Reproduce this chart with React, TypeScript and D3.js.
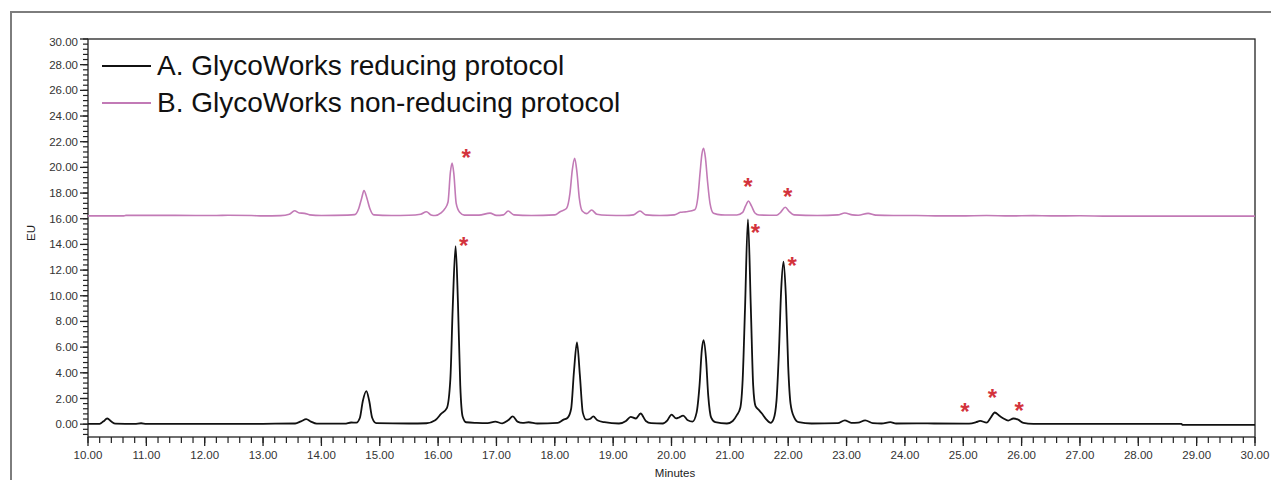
import React from "react";
import * as d3 from "d3";

// Trace A: GlycoWorks reducing protocol [minutes, EU]
const traceA: [number, number][] = [
  [10.0, 0.02], [10.2, 0.03], [10.26, 0.2], [10.33, 0.44], [10.4, 0.2], [10.47, 0.04], [10.8, 0.02], [10.91, 0.07], [11.0, 0.02],
  [12.0, 0.02], [13.0, 0.03], [13.55, 0.05], [13.65, 0.22], [13.74, 0.39], [13.82, 0.2], [13.92, 0.04], [14.4, 0.04], [14.51, 0.13],
  [14.6, 0.12], [14.66, 0.5], [14.71, 1.8], [14.77, 2.57], [14.82, 1.8], [14.87, 0.5], [14.94, 0.08], [15.5, 0.05], [15.8, 0.07],
  [15.95, 0.3], [16.05, 0.8], [16.15, 1.25], [16.21, 3.5], [16.25, 9.0], [16.3, 13.87], [16.34, 9.5], [16.38, 3.0], [16.42, 0.6],
  [16.48, 0.15], [16.66, 0.1], [16.85, 0.08], [16.98, 0.2], [17.1, 0.06], [17.2, 0.3], [17.28, 0.6], [17.36, 0.2], [17.45, 0.1],
  [17.55, 0.15], [17.7, 0.05], [18.05, 0.1], [18.15, 0.35], [18.22, 0.5], [18.28, 1.2], [18.33, 4.2], [18.38, 6.37], [18.43, 3.8],
  [18.48, 0.9], [18.54, 0.35], [18.6, 0.4], [18.66, 0.6], [18.73, 0.3], [18.85, 0.15], [19.1, 0.05], [19.22, 0.25], [19.3, 0.57],
  [19.39, 0.44], [19.47, 0.83], [19.56, 0.25], [19.65, 0.08], [19.85, 0.05], [19.93, 0.3], [20.0, 0.75], [20.08, 0.45], [20.12, 0.5],
  [20.2, 0.67], [20.28, 0.3], [20.36, 0.2], [20.43, 0.9], [20.48, 3.0], [20.52, 5.8], [20.55, 6.55], [20.59, 5.2], [20.63, 2.2],
  [20.68, 0.5], [20.75, 0.15], [20.95, 0.05], [21.05, 0.25], [21.12, 0.7], [21.18, 1.3], [21.22, 3.5], [21.26, 9.0], [21.31, 15.95],
  [21.36, 9.0], [21.4, 3.0], [21.44, 1.4], [21.5, 1.1], [21.55, 0.83], [21.62, 0.4], [21.7, 0.1], [21.75, 0.4], [21.8, 1.85],
  [21.84, 5.5], [21.88, 10.5], [21.92, 12.65], [21.96, 10.0], [22.0, 4.5], [22.04, 1.6], [22.1, 0.55], [22.18, 0.15], [22.4, 0.05],
  [22.85, 0.08], [22.97, 0.3], [23.08, 0.1], [23.2, 0.12], [23.32, 0.3], [23.45, 0.08], [23.6, 0.05], [23.75, 0.16], [23.85, 0.05],
  [24.2, 0.06], [24.5, 0.05], [25.1, 0.04], [25.22, 0.15], [25.29, 0.26], [25.4, 0.12], [25.47, 0.5], [25.54, 0.91], [25.62, 0.65],
  [25.69, 0.44], [25.77, 0.28], [25.86, 0.44], [25.94, 0.35], [26.03, 0.1], [26.2, 0.03], [26.5, 0.02], [27.5, 0.02], [28.74, 0.02],
  [28.76, -0.06], [30.0, -0.06],
];

// Trace B: GlycoWorks non-reducing protocol [minutes, EU]
const traceB: [number, number][] = [
  [10.0, 16.22], [10.6, 16.22], [10.65, 16.26], [11.5, 16.26], [12.2, 16.25], [12.4, 16.27], [12.8, 16.25], [13.0, 16.22],
  [13.3, 16.24], [13.45, 16.35], [13.54, 16.62], [13.62, 16.45], [13.71, 16.42], [13.8, 16.3], [14.0, 16.25], [14.45, 16.28],
  [14.57, 16.32], [14.64, 16.8], [14.69, 17.6], [14.73, 18.19], [14.78, 17.6], [14.83, 16.8], [14.9, 16.3], [15.2, 16.25],
  [15.5, 16.27], [15.7, 16.35], [15.8, 16.55], [15.88, 16.3], [15.95, 16.25], [16.05, 16.45], [16.12, 16.8], [16.17, 17.3],
  [16.21, 19.6], [16.24, 20.34], [16.27, 19.5], [16.31, 17.2], [16.37, 16.5], [16.45, 16.28], [16.7, 16.28], [16.89, 16.44],
  [17.0, 16.26], [17.12, 16.3], [17.2, 16.6], [17.3, 16.3], [17.6, 16.25], [18.0, 16.3], [18.09, 16.55], [18.2, 16.8],
  [18.26, 18.0], [18.3, 19.8], [18.34, 20.7], [18.38, 19.6], [18.42, 17.6], [18.47, 16.6], [18.55, 16.4], [18.63, 16.68],
  [18.72, 16.35], [18.9, 16.27], [19.2, 16.25], [19.35, 16.3], [19.46, 16.6], [19.56, 16.3], [19.8, 16.25], [20.05, 16.3],
  [20.15, 16.5], [20.25, 16.55], [20.4, 16.7], [20.45, 17.6], [20.49, 19.6], [20.52, 21.0], [20.55, 21.49], [20.58, 20.8],
  [20.62, 18.8], [20.66, 17.2], [20.72, 16.42], [20.85, 16.3], [21.12, 16.29], [21.22, 16.5], [21.27, 17.0], [21.32, 17.38],
  [21.37, 17.0], [21.43, 16.45], [21.5, 16.29], [21.8, 16.27], [21.87, 16.5], [21.95, 16.89], [22.02, 16.55], [22.1, 16.3],
  [22.5, 16.25], [22.85, 16.3], [22.97, 16.45], [23.1, 16.3], [23.2, 16.27], [23.37, 16.42], [23.5, 16.28], [23.8, 16.25],
  [24.2, 16.25], [24.6, 16.22], [24.95, 16.22], [25.4, 16.25], [25.8, 16.22], [26.2, 16.24], [26.5, 16.22], [27.0, 16.23],
  [27.5, 16.2], [28.5, 16.2], [30.0, 16.2],
];

// Asterisk annotations [minutes, EU]
const asterisks: [number, number][] = [
  [16.48, 21.02], [16.44, 14.21], [21.31, 18.76], [21.99, 18.03], [21.44, 15.17], [22.07, 12.65],
  [25.03, 1.22], [25.5, 2.34], [25.96, 1.35],
];

const seriesNames = ["A. GlycoWorks reducing protocol", "B. GlycoWorks non-reducing protocol"];
const seriesColors = ["#111111", "#c27ab6"];
const xDomain: [number, number] = [10, 30];
const yDomain: [number, number] = [-1, 30];
const xMajorTicks = d3.range(10, 31, 1);
const xMinorTicks = d3.range(50, 151).map((i) => i / 5);
const yMajorTicks = d3.range(0, 31, 2);
const yMinorTicks = d3.range(-2, 76).map((i) => (i * 2) / 5);

const W = 1271;
const H = 480;
const L = 88, R = 1255, T = 39, B = 437;

export default function App() {
  const x = d3.scaleLinear().domain(xDomain).range([L, R]);
  const y = d3.scaleLinear().domain(yDomain).range([B, T]);
  const line = d3
    .line<[number, number]>()
    .x((d) => x(d[0]))
    .y((d) => y(d[1]))
    .curve(d3.curveMonotoneX);
  const fmt = d3.format(".2f");
  const font = "'Liberation Sans', Arial, sans-serif";
  return (
    <svg
      width={W}
      height={H}
      style={{ position: "absolute", left: 0, top: 0, background: "#fff" }}
      fontFamily={font}
    >
      <rect x={0} y={0} width={W} height={H} fill="#fff" />
      {/* outer frame */}
      <rect x={11} y={12} width={W + 20} height={H + 20} fill="none" stroke="#7d7d7d" strokeWidth={2} />
      {/* plot frame */}
      <rect x={L} y={T} width={R - L} height={B - T} fill="none" stroke="#222" strokeWidth={1.3} />
      {/* x ticks */}
      {xMinorTicks.map((t) => (
        <line key={"xm" + t} x1={x(t)} x2={x(t)} y1={B} y2={B + 6} stroke="#222" strokeWidth={1.2} />
      ))}
      {xMajorTicks.map((t) => (
        <g key={"xM" + t}>
          <line x1={x(t)} x2={x(t)} y1={B} y2={B + 9} stroke="#222" strokeWidth={1.3} />
          <text x={x(t)} y={458.5} textAnchor="middle" fontSize={11.5} fill="#333">
            {fmt(t)}
          </text>
        </g>
      ))}
      {/* y ticks */}
      {yMinorTicks.map((t) => (
        <line key={"ym" + t} x1={L - 5} x2={L} y1={y(t)} y2={y(t)} stroke="#222" strokeWidth={1.2} />
      ))}
      {yMajorTicks.map((t) => (
        <g key={"yM" + t}>
          <line x1={L - 8} x2={L} y1={y(t)} y2={y(t)} stroke="#222" strokeWidth={1.3} />
          <text
            x={L - 10}
            y={y(t) + (t === 30 ? 3 : 0)}
            dy="0.35em"
            textAnchor="end"
            fontSize={11.5}
            fill="#333"
          >
            {fmt(t)}
          </text>
        </g>
      ))}
      <text x={675} y={476.5} textAnchor="middle" fontSize={11.5} fill="#222">
        Minutes
      </text>
      <text
        transform="translate(34.5,233) rotate(-90)"
        textAnchor="middle"
        fontSize={11.5}
        fill="#222"
      >
        EU
      </text>
      {/* traces */}
      <path d={line(traceB) || ""} fill="none" stroke={seriesColors[1]} strokeWidth={1.6} />
      <path d={line(traceA) || ""} fill="none" stroke={seriesColors[0]} strokeWidth={1.8} strokeLinejoin="round" />
      {/* asterisks */}
      {asterisks.map((a, i) => (
        <text
          key={"ast" + i}
          x={x(a[0])}
          y={y(a[1]) + 12}
          textAnchor="middle"
          fontSize={24}
          fontWeight="bold"
          fill="#d3333c"
        >
          *
        </text>
      ))}
      {/* legend */}
      {seriesNames.map((n, i) => (
        <g key={"leg" + i}>
          <line x1={102} x2={151} y1={66 + i * 37} y2={66 + i * 37} stroke={seriesColors[i]} strokeWidth={2.2} />
          <text x={157} y={75 + i * 37} fontSize={28} fill="#111">
            {n}
          </text>
        </g>
      ))}
    </svg>
  );
}
